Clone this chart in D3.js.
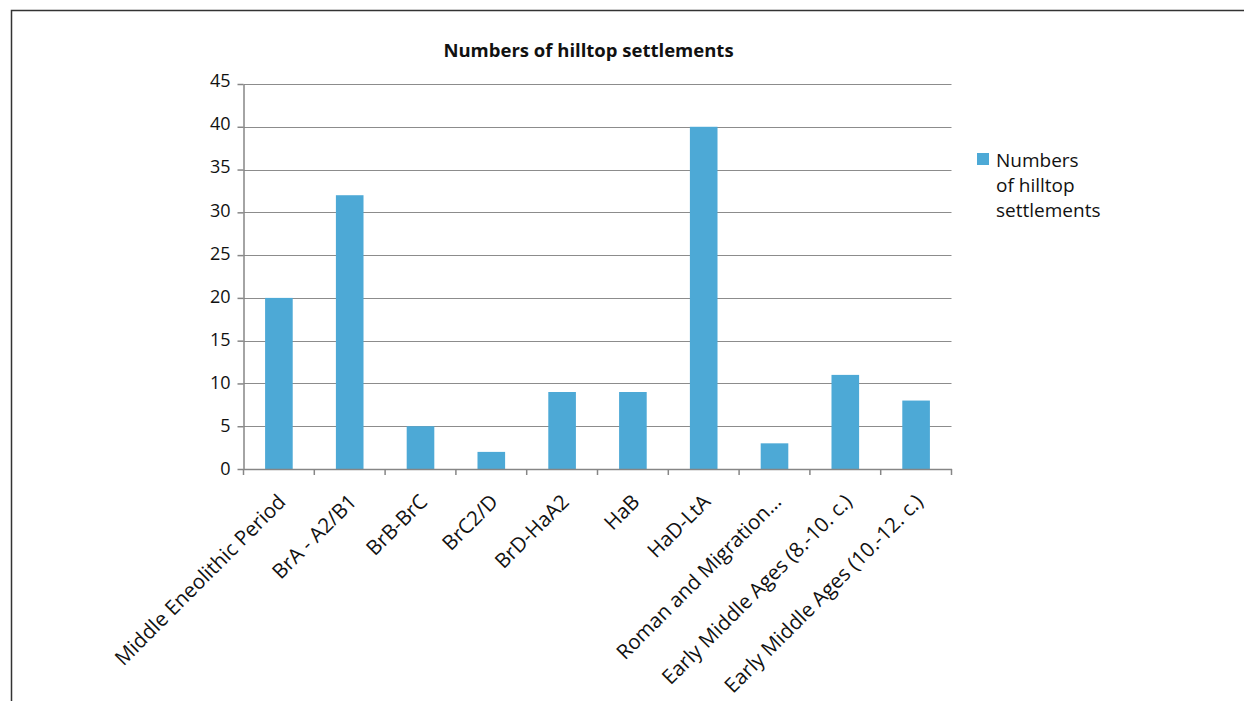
<!DOCTYPE html>
<html>
<head>
<meta charset="utf-8">
<script src="https://cdn.jsdelivr.net/npm/d3@7"></script>
<style>
  body { margin: 0; background: #fff; }
  svg { display: block; }
  .tick text { font-family: "Open Sans", sans-serif; fill: #111; }
</style>
</head>
<body>
<svg id="chart"></svg>
<script>
const categories = [
  'Middle Eneolithic Period', 'BrA - A2/B1', 'BrB-BrC', 'BrC2/D', 'BrD-HaA2',
  'HaB', 'HaD-LtA', 'Roman and Migration…', 'Early Middle Ages (8.-10. c.)',
  'Early Middle Ages (10.-12. c.)'
];
const values = [20, 32, 5, 2, 9, 9, 40, 3, 11, 8];
const yTicks = [0, 5, 10, 15, 20, 25, 30, 35, 40, 45];
const seriesName = 'Numbers of hilltop settlements';
const legendLines = ['Numbers', 'of hilltop', 'settlements'];

const width = 1244;
const height = 701;
const plotLeft = 243.5, plotRight = 951.5, plotTop = 84, plotBottom = 469;
const barColor = '#4da9d6';

const svg = d3.select('#chart')
  .attr('width', width)
  .attr('height', height);

// frame (top and left edges only visible)
svg.append('path')
  .attr('d', 'M11.5,' + height + 'V10.5H' + width)
  .attr('fill', 'none')
  .attr('stroke', '#333')
  .attr('stroke-width', 1.5);

const x = d3.scaleBand()
  .domain(categories)
  .range([plotLeft, plotRight])
  .padding(0);

const y = d3.scaleLinear()
  .domain([0, 45])
  .range([plotBottom, plotTop]);

// gridlines
svg.append('g')
  .selectAll('line')
  .data(yTicks.filter(d => d > 0))
  .join('line')
    .attr('x1', plotLeft)
    .attr('x2', plotRight)
    .attr('y1', d => Math.round(y(d)) + 0.5)
    .attr('y2', d => Math.round(y(d)) + 0.5)
    .attr('stroke', '#8c8c8c')
    .attr('stroke-width', 1);

// bars
const bw = x.bandwidth() * 0.39;
svg.append('g')
  .selectAll('rect')
  .data(values)
  .join('rect')
    .attr('x', (d, i) => x(categories[i]) + (x.bandwidth() - bw) / 2)
    .attr('y', d => y(d))
    .attr('width', bw)
    .attr('height', d => y(0) - y(d))
    .attr('fill', barColor);

// y axis
const yAxis = svg.append('g')
  .attr('transform', 'translate(' + plotLeft + ',0)')
  .call(d3.axisLeft(y).tickValues(yTicks).tickSize(6).tickPadding(7).tickSizeOuter(0));
yAxis.select('.domain').attr('stroke', '#868686').attr('stroke-width', 1.5);
yAxis.selectAll('.tick line').attr('stroke', '#868686').attr('stroke-width', 1.5);
yAxis.selectAll('.tick text')
  .attr('font-size', 18)
  .attr('y', d => -3 * d / 45);

// x axis
const xAxis = svg.append('g')
  .attr('transform', 'translate(0,' + plotBottom + ')')
  .call(d3.axisBottom(x).tickSize(0).tickSizeOuter(0).tickFormat(''));
xAxis.select('.domain').attr('stroke', '#868686').attr('stroke-width', 1.5);

// category boundary ticks
const bounds = categories.map(c => x(c)).concat([plotRight]);
svg.append('g')
  .selectAll('line')
  .data(bounds)
  .join('line')
    .attr('x1', d => d)
    .attr('x2', d => d)
    .attr('y1', plotBottom)
    .attr('y2', plotBottom + 6)
    .attr('stroke', '#868686')
    .attr('stroke-width', 1.5);

// rotated category labels
svg.append('g')
  .selectAll('text')
  .data(categories)
  .join('text')
    .attr('transform', d => 'translate(' + (x(d) + x.bandwidth() / 2 + 3) + ',' + (plotBottom + 29) + ') rotate(-45)')
    .attr('text-anchor', 'end')
    .attr('dy', '0.35em')
    .attr('font-family', '"Open Sans", sans-serif')
    .attr('font-size', 20.5)
    .attr('fill', '#111')
    .text(d => d);

// title
svg.append('text')
  .attr('x', 588.5)
  .attr('y', 57)
  .attr('text-anchor', 'middle')
  .attr('font-family', '"Open Sans", sans-serif')
  .attr('font-weight', 'bold')
  .attr('font-size', 18.5)
  .attr('fill', '#111')
  .text(seriesName);

// legend
const legend = svg.append('g')
  .attr('transform', 'translate(977,153)');
legend.append('rect')
  .attr('width', 12)
  .attr('height', 12)
  .attr('fill', barColor);
legend.append('text')
  .attr('font-family', '"Open Sans", sans-serif')
  .attr('font-size', 19)
  .attr('fill', '#111')
  .selectAll('tspan')
  .data(legendLines)
  .join('tspan')
    .attr('x', 19)
    .attr('y', (d, i) => 14 + i * 25)
    .text(d => d);
</script>
</body>
</html>
